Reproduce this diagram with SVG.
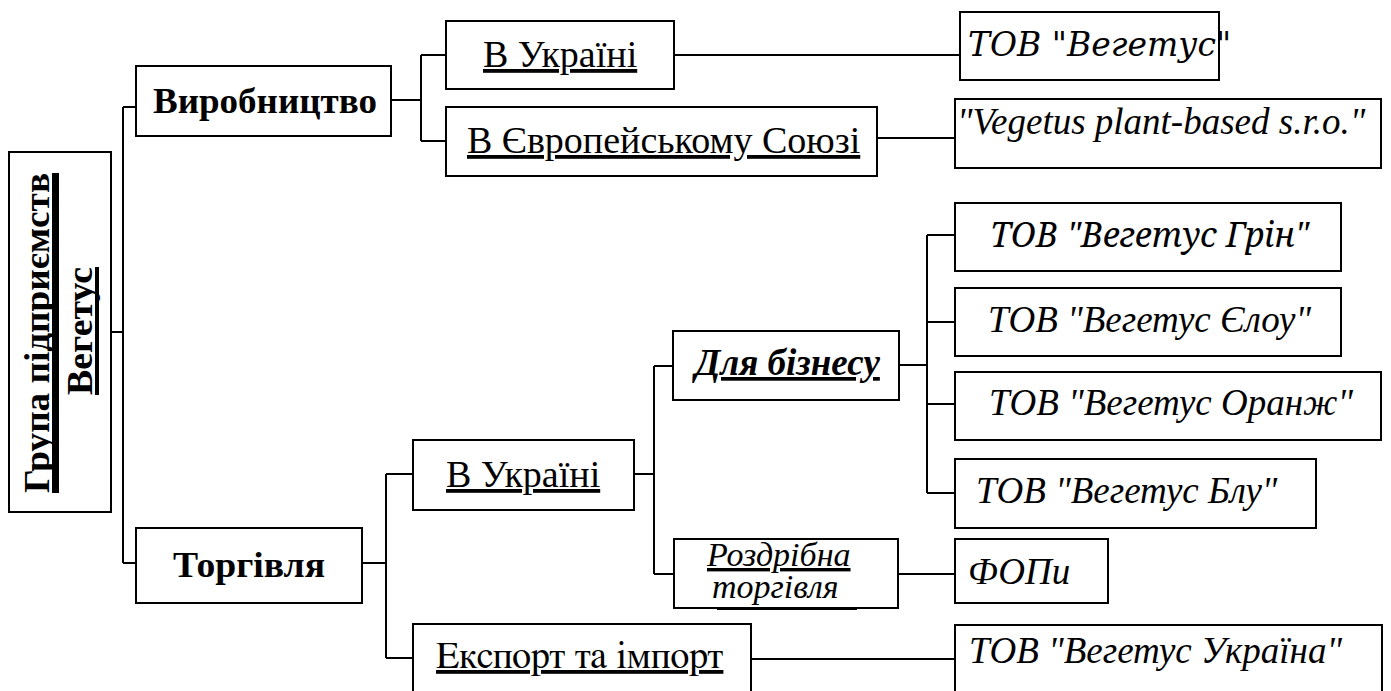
<svg xmlns="http://www.w3.org/2000/svg" width="1391" height="691" viewBox="0 0 1391 691">
<style>
.box{fill:#fff;stroke:#000;stroke-width:2}
.c{stroke:#000;stroke-width:2;fill:none}
</style>
<rect width="1391" height="691" fill="#fff"/>
<g id="connectors">
<path class="c" d="M111,332H123M123,107V563M123,107H136M123,563H136"/>
<path class="c" d="M391,100H421M421,55V141M421,55H446M421,141H446"/>
<path class="c" d="M674,55H960"/>
<path class="c" d="M877,138H955"/>
<path class="c" d="M362,563H386M386,474V658M386,474H413M386,658H413"/>
<path class="c" d="M634,474H654M654,366V574M654,366H673M654,574H674"/>
<path class="c" d="M899,365H927M927,235V493M927,235H955M927,322H955M927,404H955M927,493H955"/>
<path class="c" d="M898,574H955"/>
<path class="c" d="M751,659H955"/>
</g>
<g id="root">
<rect class="box" x="9" y="152" width="102" height="360"/>
<text transform="translate(49,333) rotate(-90)" text-anchor="middle" style="font-family:'Liberation Serif';font-size:36px;font-weight:bold" textLength="320" lengthAdjust="spacingAndGlyphs">Група підприємств</text>
<text transform="translate(92,331) rotate(-90)" text-anchor="middle" style="font-family:'Liberation Serif';font-size:36px;font-weight:bold" textLength="128" lengthAdjust="spacingAndGlyphs">Вегетус</text>
<rect x="52" y="173" width="7" height="320" fill="#000"/>
<rect x="95" y="267" width="4" height="128" fill="#000"/>
</g>
<g id="vyrobnytstvo">
<rect class="box" x="136" y="66" width="255" height="70"/>
<text x="153" y="113" style="font-family:'Liberation Serif';font-size:36px;font-weight:bold" textLength="224" lengthAdjust="spacingAndGlyphs">Виробництво</text>
</g>
<g id="torhivlia">
<rect class="box" x="136" y="528" width="226" height="75"/>
<text x="173" y="577" style="font-family:'Liberation Serif';font-size:36px;font-weight:bold" textLength="152" lengthAdjust="spacingAndGlyphs">Торгівля</text>
</g>
<g id="prod-ua">
<rect class="box" x="446" y="21" width="228" height="68"/>
<text x="483" y="67" style="font-family:'Liberation Serif';font-size:38px;font-weight:normal;text-decoration:underline">В Україні</text>
</g>
<g id="prod-eu">
<rect class="box" x="446" y="107" width="431" height="69"/>
<text x="467" y="153" style="font-family:'Tinos';font-size:38px;text-decoration:underline">В Європейському Союзі</text>
</g>
<g id="tov-vegetus">
<rect class="box" x="960" y="12" width="259" height="68"/>
<text x="968" y="56" style="font-family:'DejaVu Serif';font-size:33px;font-style:italic">ТОВ "Вегетус"</text>
</g>
<g id="vegetus-sro">
<rect class="box" x="955" y="99" width="426" height="69"/>
<text x="957" y="134" style="font-family:'Times New Roman';font-size:37px;font-style:italic">"Vegetus plant-based s.r.o."</text>
</g>
<g id="trade-ua">
<rect class="box" x="413" y="440" width="221" height="70"/>
<text x="446" y="487" style="font-family:serif;font-size:38px;text-decoration:underline">В Україні</text>
</g>
<g id="export">
<rect class="box" x="413" y="624" width="338" height="72"/>
<text x="436" y="668" style="font-family:'FreeSerif';font-size:38px;text-decoration:underline">Експорт та імпорт</text>
</g>
<g id="business">
<rect class="box" x="673" y="331" width="226" height="69"/>
<text x="695" y="375" style="font-family:'Liberation Serif';font-size:37px;font-style:italic;font-weight:bold;text-decoration:underline">Для бізнесу</text>
</g>
<g id="retail">
<rect class="box" x="674" y="539" width="224" height="69"/>
<text x="707" y="566" font-family="Liberation Serif" font-size="34" font-style="italic" text-decoration="underline">Роздрібна</text>
<text x="712" y="598" font-family="Liberation Serif" font-size="34" font-style="italic">торгівля</text>
<rect x="717" y="607" width="140" height="3" fill="#000"/>
</g>
<g id="green">
<rect class="box" x="955" y="203" width="386" height="68"/>
<text x="990" y="247" style="font-family:'Noto Serif';font-size:34px;font-style:italic">ТОВ "Вегетус Грін"</text>
</g>
<g id="yellow">
<rect class="box" x="955" y="288" width="386" height="68"/>
<text x="988" y="332" style="font-family:'Liberation Serif';font-size:37px;font-style:italic;font-weight:400">ТОВ "Вегетус Єлоу"</text>
</g>
<g id="orange">
<rect class="box" x="955" y="372" width="426" height="68"/>
<text x="989" y="415" style="font-family:'Nimbus Roman';font-size:37px;font-style:italic">ТОВ "Вегетус Оранж"</text>
</g>
<g id="blue">
<rect class="box" x="955" y="459" width="361" height="69"/>
<text x="976" y="503" style="font-family:'Liberation Serif';font-size:37px;font-style:oblique">ТОВ "Вегетус Блу"</text>
</g>
<g id="fop">
<rect class="box" x="955" y="539" width="153" height="64"/>
<text x="968" y="584" style="font-family:'Liberation Serif';font-size:37px;font-style:italic;font-weight:500">ФОПи</text>
</g>
<g id="ukraina">
<rect class="box" x="955" y="625" width="427" height="72"/>
<text x="969" y="663" style="font-family:'Liberation Serif',serif;font-size:37px;font-style:italic">ТОВ "Вегетус Україна"</text>
</g>
</svg>
